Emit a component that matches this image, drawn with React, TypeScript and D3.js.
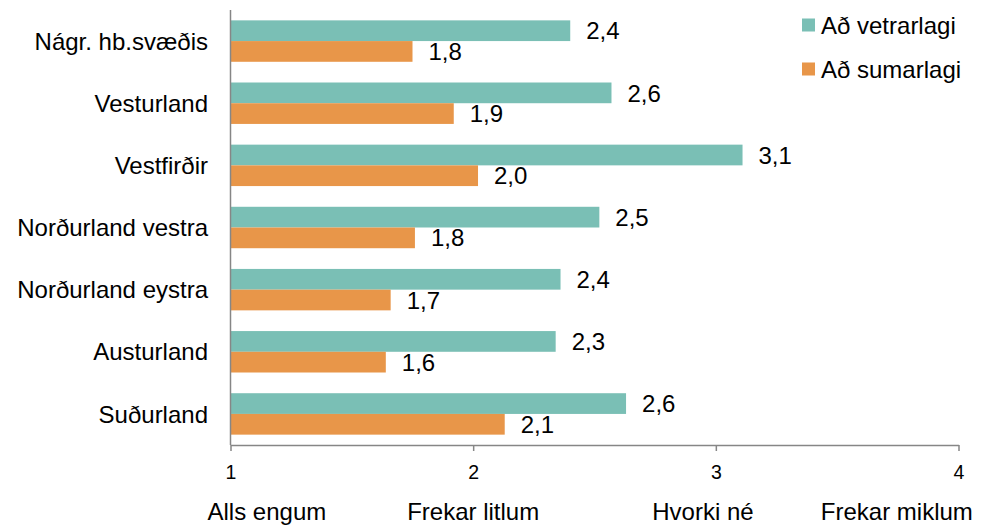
import { useEffect, useRef } from "react";
import * as d3 from "d3";

// Landsvæði (efst til neðst)
const regions = [
  "Nágr. hb.svæðis",
  "Vesturland",
  "Vestfirðir",
  "Norðurland vestra",
  "Norðurland eystra",
  "Austurland",
  "Suðurland",
];

const seriesNames = ["Að vetrarlagi", "Að sumarlagi"];

// Meðaltöl lesin af myndinni
const winterValues = [2.40, 2.57, 3.11, 2.52, 2.36, 2.34, 2.63];
const summerValues = [1.75, 1.92, 2.02, 1.76, 1.66, 1.64, 2.13];

const tickValues = [1, 2, 3, 4];
const scaleLabels = ["Alls engum", "Frekar litlum", "Hvorki né", "Frekar miklum"];

const COLORS = ["#7abfb5", "#e89649"];
const FONT = "Liberation Sans, Arial, sans-serif";

export default function App() {
  const svgRef = useRef<SVGSVGElement>(null);

  useEffect(() => {
    if (!svgRef.current) return;
    const svg = d3.select(svgRef.current);
    svg.selectAll("*").remove();

    const height = 527;
    const margin = { top: 10, right: 40, bottom: 82, left: 230.5 };
    const x0 = margin.left;
    const x1 = 958.5;
    const plotBottom = height - margin.bottom;

    const x = d3.scaleLinear().domain([1, 4]).range([x0, x1]);

    const y = d3
      .scaleBand()
      .domain(regions)
      .range([margin.top, plotBottom])
      .paddingInner(1 / 3)
      .paddingOuter(1 / 6);

    const ySeries = d3
      .scaleBand()
      .domain(seriesNames)
      .range([0, y.bandwidth()]);

    const rows = regions.map((r, i) => ({
      region: r,
      values: [winterValues[i], summerValues[i]],
    }));

    // Súlur
    const groups = svg
      .selectAll(".grp")
      .data(rows)
      .enter()
      .append("g")
      .attr("transform", (d) => `translate(0,${y(d.region)})`);

    groups
      .selectAll("rect")
      .data((d) => d.values.map((v, k) => ({ v, k })))
      .enter()
      .append("rect")
      .attr("x", x(1))
      .attr("y", (d) => ySeries(seriesNames[d.k]) || 0)
      .attr("width", (d) => x(d.v) - x(1))
      .attr("height", ySeries.bandwidth())
      .attr("fill", (d) => COLORS[d.k]);

    groups
      .selectAll("text")
      .data((d) => d.values.map((v, k) => ({ v, k })))
      .enter()
      .append("text")
      .attr("x", (d) => x(d.v) + 16)
      .attr("y", (d) => (ySeries(seriesNames[d.k]) || 0) + ySeries.bandwidth() / 2)
      .attr("dy", "0.36em")
      .style("font-family", FONT)
      .style("font-size", "24px")
      .style("fill", "#000")
      .text((d) => d.v.toFixed(1).replace(".", ","));

    // Lóðréttur ás
    svg
      .append("line")
      .attr("x1", x0)
      .attr("x2", x0)
      .attr("y1", margin.top)
      .attr("y2", plotBottom)
      .style("stroke", "#868686")
      .style("stroke-width", 1.5);

    // Flokkaheiti
    svg
      .selectAll(".cat")
      .data(regions)
      .enter()
      .append("text")
      .attr("x", 208)
      .attr("y", (d) => (y(d) || 0) + y.bandwidth() / 2)
      .attr("dy", "0.36em")
      .attr("text-anchor", "end")
      .style("font-family", FONT)
      .style("font-size", "24px")
      .style("fill", "#000")
      .text((d) => d);

    // Láréttur ás
    const axis = svg
      .append("g")
      .attr("transform", `translate(0,${plotBottom})`)
      .call(
        d3
          .axisBottom(x)
          .tickValues(tickValues)
          .tickSize(6)
          .tickSizeOuter(0)
          .tickPadding(14)
          .tickFormat(d3.format("d"))
      );
    axis.select(".domain").style("stroke", "#868686").style("stroke-width", 1.5);
    axis.selectAll(".tick line").style("stroke", "#868686").style("stroke-width", 1.5);
    axis
      .selectAll(".tick text")
      .style("font-family", FONT)
      .style("font-size", "19.5px")
      .style("fill", "#000");

    // Kvarðaheiti undir ás
    const labelPos = [1.15, 2.0, 2.947, 3.746];
    svg
      .selectAll(".scale-label")
      .data(scaleLabels)
      .enter()
      .append("text")
      .attr("x", (_, i) => x(labelPos[i]))
      .attr("y", 511)
      .attr("dy", "0.36em")
      .attr("text-anchor", "middle")
      .style("font-family", FONT)
      .style("font-size", "24px")
      .style("fill", "#000")
      .text((d) => d);

    // Skýringar
    const legend = svg
      .selectAll(".legend")
      .data(seriesNames)
      .enter()
      .append("g")
      .attr("transform", (_, i) => `translate(802,${25 + i * 44})`);
    legend
      .append("rect")
      .attr("x", 0)
      .attr("y", -6.5)
      .attr("width", 13)
      .attr("height", 13)
      .attr("fill", (_, i) => COLORS[i]);
    legend
      .append("text")
      .attr("x", 19)
      .attr("y", 0)
      .attr("dy", "0.36em")
      .style("font-family", FONT)
      .style("font-size", "24px")
      .style("fill", "#000")
      .text((d) => d);
  }, []);

  return (
    <svg
      ref={svgRef}
      width={998}
      height={527}
      style={{ position: "absolute", left: 0, top: 0, background: "#fff" }}
    />
  );
}
